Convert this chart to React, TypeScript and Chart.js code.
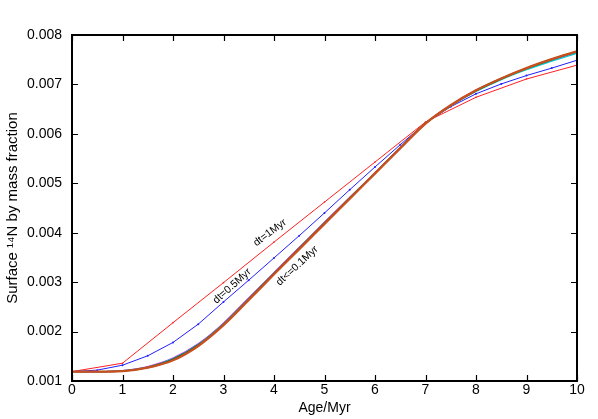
import React, { useEffect, useRef } from "react";
import { Chart, registerables } from "chart.js";

Chart.register(...registerables);

// Ages (Myr)
const agesCoarse = [0, 1, 2, 3, 4, 5, 6, 7, 8, 9, 10];
const agesHalf = [0, 0.5, 1, 1.5, 2, 2.5, 3, 3.5, 4, 4.5, 5, 5.5, 6, 6.5, 7, 7.5, 8, 8.5, 9, 9.5, 10];

// dt = 1 Myr
const nDt1 = [0.00119, 0.00136, 0.00218, 0.00299, 0.00381, 0.00462, 0.00543, 0.00624, 0.00674, 0.00711, 0.00739];
// dt = 0.5 Myr
const nDt05 = [0.00119, 0.00122, 0.00132, 0.00151, 0.00178, 0.00215, 0.0026, 0.00304, 0.00349, 0.00394, 0.0044, 0.00487, 0.00533, 0.00578, 0.00622, 0.00655, 0.00681, 0.00701, 0.00718, 0.00733, 0.00749];
// dt <= 0.1 Myr (converged runs)
const nConvA = [0.00119, 0.00119, 0.00121, 0.00129, 0.00146, 0.00175, 0.00217, 0.00268, 0.00319, 0.0037, 0.00421, 0.00471, 0.00521, 0.00572, 0.00621, 0.00657, 0.00687, 0.00711, 0.00732, 0.00749, 0.00765];
const nConvB = [0.00119, 0.00119, 0.00121, 0.00128, 0.00145, 0.00174, 0.00216, 0.00267, 0.00318, 0.00369, 0.0042, 0.00471, 0.00521, 0.00572, 0.00621, 0.00657, 0.00686, 0.0071, 0.0073, 0.00747, 0.00763];
const nConvC = [0.00119, 0.00119, 0.0012, 0.00128, 0.00144, 0.00173, 0.00215, 0.00266, 0.00318, 0.00369, 0.0042, 0.0047, 0.0052, 0.00571, 0.00621, 0.00657, 0.00687, 0.00711, 0.00732, 0.0075, 0.00766];
const nConvD = [0.00119, 0.00119, 0.0012, 0.00127, 0.00143, 0.00172, 0.00214, 0.00265, 0.00317, 0.00368, 0.00419, 0.0047, 0.0052, 0.00571, 0.00621, 0.00658, 0.00688, 0.00712, 0.00733, 0.00751, 0.00767];
const nConvE = [0.00119, 0.00119, 0.0012, 0.00127, 0.00142, 0.00171, 0.00213, 0.00264, 0.00316, 0.00367, 0.00418, 0.00469, 0.0052, 0.00571, 0.00621, 0.00658, 0.00688, 0.00712, 0.00733, 0.00751, 0.00767];

const xTicks = [0, 1, 2, 3, 4, 5, 6, 7, 8, 9, 10];
const yTicks = [0.001, 0.002, 0.003, 0.004, 0.005, 0.006, 0.007, 0.008];

const curveLabels = [
  { text: "dt=1Myr", x: 3.92, y: 0.004, angle: 37 },
  { text: "dt=0.5Myr", x: 3.17, y: 0.00292, angle: 42 },
  { text: "dt<=0.1Myr", x: 4.46, y: 0.00333, angle: 43 },
];

const FONT = "'Liberation Sans', Arial, Helvetica, sans-serif";

export default function App() {
  const ref = useRef<HTMLCanvasElement>(null);

  useEffect(() => {
    if (!ref.current) return;
    const pts = (xs: number[], ys: number[]) => xs.map((x, i) => ({ x, y: ys[i] }));

    const framePlugin = {
      id: "frame",
      afterDatasetsDraw(chart: any) {
        const { ctx, chartArea: a, scales } = chart;
        const xs = scales.x;
        const ys = scales.y;
        ctx.save();
        // curve labels
        ctx.fillStyle = "#000";
        ctx.font = `10.5px ${FONT}`;
        ctx.textAlign = "center";
        ctx.textBaseline = "middle";
        for (const l of curveLabels) {
          ctx.save();
          ctx.translate(xs.getPixelForValue(l.x), ys.getPixelForValue(l.y));
          ctx.rotate((-l.angle * Math.PI) / 180);
          ctx.fillText(l.text, 0, 0);
          ctx.restore();
        }
        // inward ticks on all sides
        ctx.strokeStyle = "#000";
        ctx.lineWidth = 1.2;
        const tl = 6;
        ctx.beginPath();
        for (const t of xTicks) {
          const px = Math.round(xs.getPixelForValue(t)) + 0.5;
          ctx.moveTo(px, a.bottom);
          ctx.lineTo(px, a.bottom - tl);
          ctx.moveTo(px, a.top);
          ctx.lineTo(px, a.top + tl);
        }
        for (const t of yTicks) {
          const py = Math.round(ys.getPixelForValue(t)) + 0.5;
          ctx.moveTo(a.left, py);
          ctx.lineTo(a.left + tl, py);
          ctx.moveTo(a.right, py);
          ctx.lineTo(a.right - tl, py);
        }
        ctx.stroke();
        // frame
        ctx.lineWidth = 2;
        ctx.strokeRect(a.left, a.top, a.right - a.left, a.bottom - a.top);
        ctx.restore();
      },
    };

    const conv = (data: number[], color: string, width: number) => ({
      data: pts(agesHalf, data),
      borderColor: color,
      backgroundColor: color,
      borderWidth: width,
      pointRadius: 0,
      cubicInterpolationMode: "monotone" as const,
      fill: false,
    });

    const chart = new Chart(ref.current, {
      type: "line",
      data: {
        datasets: [
          conv(nConvE, "#c8501e", 2.4),
          conv(nConvD, "#303030", 1.4),
          conv(nConvC, "#00a030", 1.4),
          conv(nConvB, "#00c8d0", 1.4),
          conv(nConvA, "#ff00ff", 1.4),
          {
            data: pts(agesHalf, nDt05),
            borderColor: "#2020ff",
            backgroundColor: "#2020ff",
            borderWidth: 1,
            pointRadius: 1,
            pointBorderWidth: 0,
            tension: 0,
            fill: false,
          },
          {
            data: pts(agesCoarse, nDt1),
            borderColor: "#ff2020",
            backgroundColor: "#ff2020",
            borderWidth: 1,
            pointRadius: 0.8,
            pointBorderWidth: 0,
            tension: 0,
            fill: false,
          },
        ],
      },
      options: {
        animation: false,
        responsive: false,
        maintainAspectRatio: false,
        layout: { padding: { top: 35, right: 21, left: 0, bottom: 0 } },
        plugins: { legend: { display: false }, tooltip: { enabled: false } },
        scales: {
          x: {
            type: "linear",
            min: 0,
            max: 10,
            afterBuildTicks: (s: any) => {
              s.ticks = xTicks.map((v) => ({ value: v }));
            },
            ticks: {
              color: "#000",
              font: { family: FONT, size: 14 },
              padding: 1,
              maxRotation: 0,
              autoSkip: false,
              callback: (v: any) => String(v),
            },
            grid: { display: false, drawTicks: false },
            border: { display: false },
            title: {
              display: true,
              text: "Age/Myr",
              color: "#000",
              font: { family: FONT, size: 14 },
              padding: { top: 0, bottom: 2 },
            },
            afterFit: (s: any) => {
              s.height = 38;
            },
          },
          y: {
            type: "linear",
            min: 0.001,
            max: 0.008,
            afterBuildTicks: (s: any) => {
              s.ticks = yTicks.map((v) => ({ value: v }));
            },
            ticks: {
              color: "#000",
              font: { family: FONT, size: 14 },
              padding: 10,
              autoSkip: false,
              callback: (v: any) => Number(v).toFixed(3),
            },
            grid: { display: false, drawTicks: false },
            border: { display: false },
            title: {
              display: true,
              text: "Surface \u00B9\u2074N by mass fraction",
              color: "#000",
              font: { family: FONT, size: 15 },
              padding: { top: 4, bottom: 0 },
            },
            afterFit: (s: any) => {
              s.width = 72;
            },
          },
        },
      },
      plugins: [framePlugin],
    });
    return () => chart.destroy();
  }, []);

  return (
    <div style={{ position: "fixed", left: 0, top: 0, width: 598, height: 419, background: "#fff" }}>
      <canvas ref={ref} width={598} height={419} style={{ display: "block" }} />
    </div>
  );
}
